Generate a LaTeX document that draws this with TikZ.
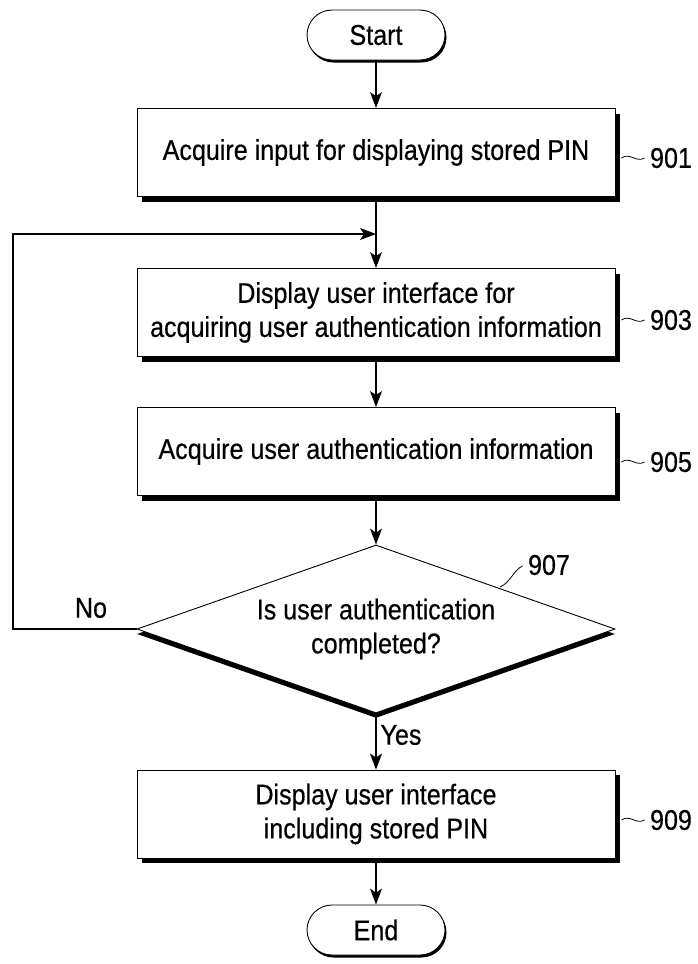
\documentclass[tikz,border=0pt]{standalone}
\usepackage{fontspec}
\setmainfont[FakeStretch=0.88,FakeBold=0.5]{Liberation Sans}
\usetikzlibrary{arrows.meta,shapes.geometric,shadows}
\begin{document}
\begin{tikzpicture}[x=1pt,y=-1pt,
  every node/.style={font=\fontsize{28.5}{34}\selectfont},
  hardshadow/.style={drop shadow={shadow xshift=#1, shadow yshift=-5pt, fill=black, opacity=1}},
  procbox/.style={draw, line width=0.9pt, fill=white, minimum width=478pt, minimum height=88pt,
    inner sep=0pt, align=center, hardshadow=5pt},
  termbox/.style={draw, line width=0.9pt, fill=white, rounded corners=25pt, minimum width=138pt,
    minimum height=50pt, inner sep=0pt,
    drop shadow={shadow xshift=1.5pt, shadow yshift=-2.5pt, fill=black, opacity=1}},
  decision/.style={draw, diamond, aspect=2.845, line width=0.9pt, fill=white, minimum width=478pt,
    minimum height=168pt, inner sep=0pt, align=center, hardshadow=0pt},
  flow/.style={line width=1.1pt, -{Stealth[length=16pt,width=12pt,inset=4pt]}},
  refnum/.style={font=\fontsize{28.5}{30}\selectfont},
  tilde/.style={line width=0.8pt}
]
\useasboundingbox (0,0) rectangle (697,964);

% flow steps
\node[termbox] (start) at (376,35) {Start};
\node[procbox] (s901) at (376,152.5) {Acquire input for displaying stored PIN};
\node[procbox] (s903) at (376,312.5) {Display user interface for\\acquiring user authentication information};
\node[procbox] (s905) at (376,451.5) {Acquire user authentication information};
\node[decision] (s907) at (376,629) {Is user authentication\\completed?};
\node[procbox] (s909) at (376,814) {Display user interface\\including stored PIN};
\node[termbox] (end) at (376,930) {End};

% reference numerals
\node[refnum] (n901) at (671,158) {901};
\node[refnum] (n903) at (671,320) {903};
\node[refnum] (n905) at (671,462) {905};
\node[refnum] (n909) at (671,820) {909};
\node[refnum] (n907) at (549,565) {907};

\foreach \s/\n in {s901/n901, s903/n903, s905/n905, s909/n909}
  \draw[tilde] ([xshift=6pt]\s.east |- \n.west) .. controls +(9,-6) and +(-9,5) .. ([xshift=-2pt]\n.west);
\coordinate (t907) at (500,587);
\draw[tilde] (t907) .. controls +(10,-4) and +(-8,3) .. ([xshift=-2pt,yshift=-1pt]n907.west);

% connectors
\coordinate (join) at (376,234);
\coordinate (loopL) at (13,629);
\draw[flow] (start) -- (s901);
\draw[line width=1.1pt] (s901.south) -- (join);
\draw[flow] (join) -- (s903);
\draw[flow] (s903) -- (s905);
\draw[flow] (s905) -- (s907.north);
\draw[flow] (s907.south) -- (s909);
\draw[flow] (s909) -- (end);
\draw[flow] (s907.west) -- (loopL) |- (join);

% branch labels
\node (no) at (91,608) {No};
\node (yes) at (401,735) {Yes};
\end{tikzpicture}
\end{document}
